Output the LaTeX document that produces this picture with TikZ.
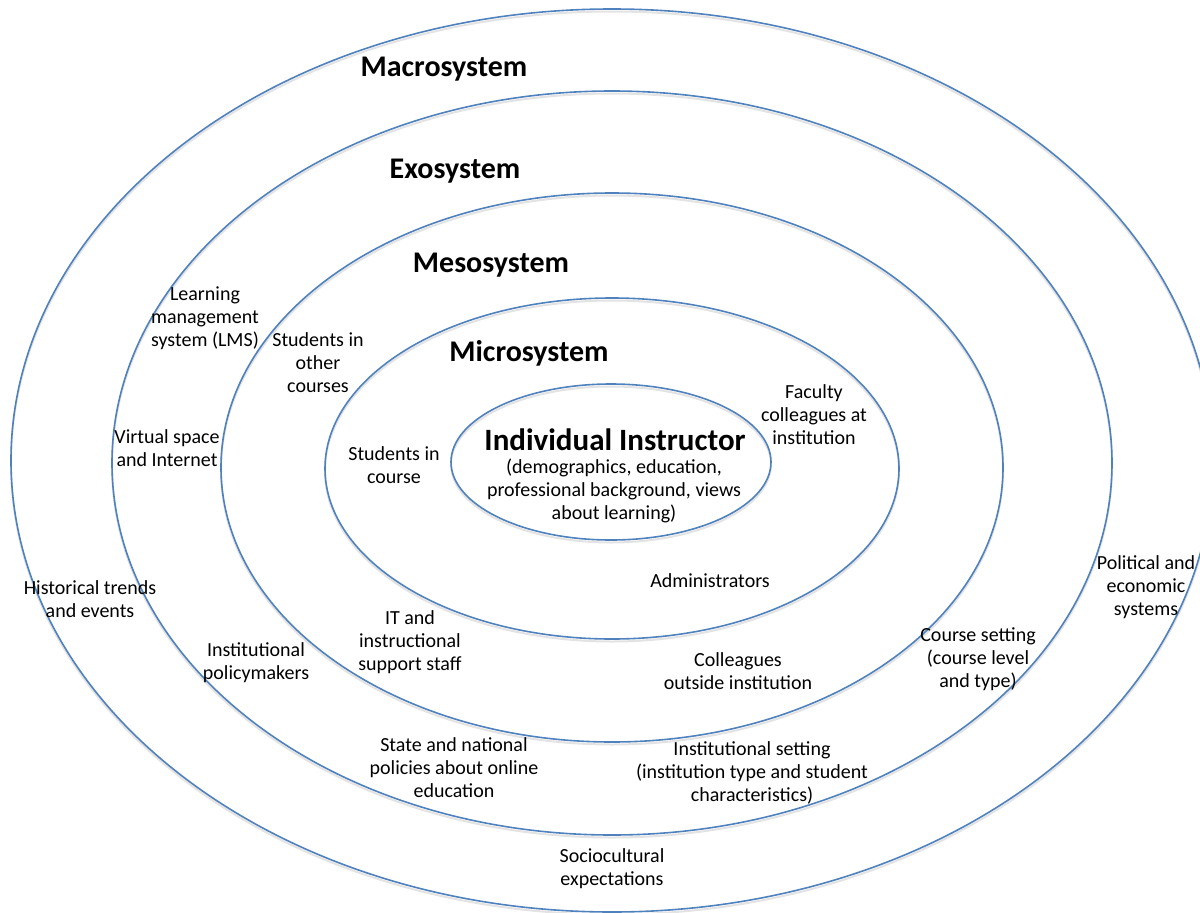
\documentclass[tikz,border=0pt]{standalone}
\usepackage{fontspec}
\setmainfont{Carlito}
\usetikzlibrary{positioning}
\definecolor{cblue}{HTML}{4F81BD}
\definecolor{cshade}{HTML}{E3E3E3}
\tikzset{
  every picture/.style={line width=1.6pt},
  ring/.style={draw=cblue, line width=1.6pt, preaction={draw=cshade, line width=2pt, transform canvas={yshift=-2.5pt}}},
  sysname/.style={font=\fontsize{30}{34}\selectfont\bfseries, inner sep=0pt},
  item/.style={font=\fontsize{20}{23}\selectfont, align=center, inner sep=0pt},
}
\begin{document}
\begin{tikzpicture}[x=1pt, y=-1pt]
  \useasboundingbox (0,0) rectangle (1200,913);
  \draw[ring] (612,460.5) ellipse [x radius=601, y radius=451.5];
  \draw[ring] (612,463) ellipse [x radius=500, y radius=372];
  \draw[ring] (612,467.5) ellipse [x radius=391, y radius=274.5];
  \draw[ring] (612,468.5) ellipse [x radius=287, y radius=170.5];
  \draw[ring] (611,462) ellipse [x radius=160, y radius=78];
  \node[sysname] (macro) at (444,69) {Macrosystem};
  \node[sysname] (exo) at (455,171) {Exosystem};
  \node[sysname] (meso) at (491,265) {Mesosystem};
  \node[sysname] (micro) at (529,353) {Microsystem};
  \node[sysname, font=\fontsize{31}{34}\selectfont\bfseries] (instr) at (615,440) {Individual Instructor};
  \node[item] (traits) at (614,491) {(demographics, education,\\ professional background, views\\ about learning)};
  \node[item] (lms) at (205,318.5) {Learning\\ management\\ system (LMS)};
  \node[item] (others) at (318,362.5) {Students in\\ other\\ courses};
  \node[item] (faculty) at (814,414.5) {Faculty\\ colleagues at\\ institution};
  \node[item] (virtual) at (167,448.5) {Virtual space\\ and Internet};
  \node[item] (students) at (394,465.5) {Students in\\ course};
  \node[item] (history) at (90,599.5) {Historical trends\\ and events};
  \node[item] (admin) at (710,581) {Administrators};
  \node[item] (politics) at (1146,587) {Political and\\ economic\\ systems};
  \node[item] (itstaff) at (410,642) {IT and\\ instructional\\ support staff};
  \node[item] (policymk) at (256,662.5) {Institutional\\ policymakers};
  \node[item] (course) at (978,659) {Course setting\\ (course level\\ and type)};
  \node[item] (outside) at (738,671.5) {Colleagues\\ outside institution};
  \node[item] (policies) at (454,768) {State and national\\ policies about online\\ education};
  \node[item] (instset) at (752,772.5) {Institutional setting\\ (institution type and student\\ characteristics)};
  \node[item] (socio) at (612,869) {Sociocultural\\ expectations};
\end{tikzpicture}
\end{document}
